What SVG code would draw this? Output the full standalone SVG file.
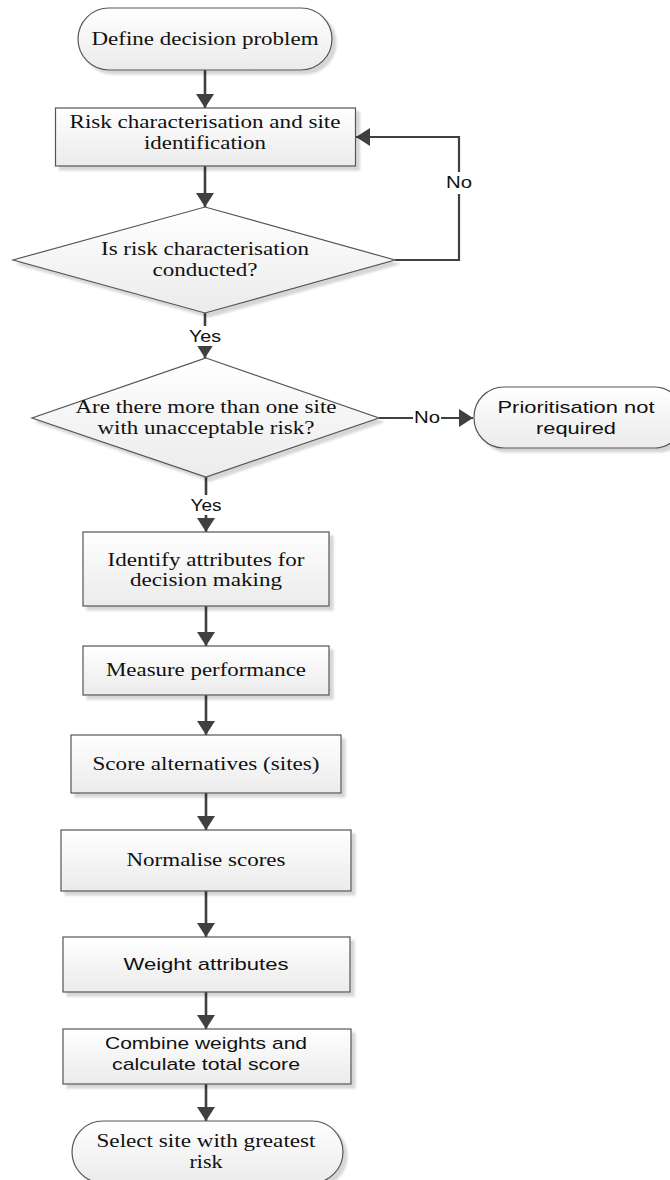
<svg xmlns="http://www.w3.org/2000/svg" width="670" height="1180" viewBox="0 0 670 1180">
  <defs>
    <linearGradient id="fillGrad" x1="0" y1="0" x2="0" y2="1">
      <stop offset="0" stop-color="#ffffff"/>
      <stop offset="1" stop-color="#ebebeb"/>
    </linearGradient>
    <filter id="shadow" x="-10%" y="-10%" width="125%" height="130%">
      <feDropShadow dx="4" dy="4" stdDeviation="1" flood-color="#000" flood-opacity="0.16"/>
    </filter>
    <marker id="arrow" viewBox="0 0 14 18" refX="14" refY="9" markerWidth="14" markerHeight="18" markerUnits="userSpaceOnUse" orient="auto">
      <path d="M0,0 L14,9 L0,18 Z" fill="#404040"/>
    </marker>
  </defs>
  <style>
    .shape { fill: url(#fillGrad); stroke: #555555; stroke-width: 1.2; filter: url(#shadow); }
    .serif { font-family: "Liberation Serif", "Times New Roman", serif; font-size: 18.5px; fill: #111111; text-anchor: middle; }
    .sans { font-family: "Liberation Sans", Arial, sans-serif; font-size: 17px; fill: #111111; text-anchor: middle; }
    .link { fill: none; stroke: #404040; stroke-width: 2.6; marker-end: url(#arrow); }
    .label-bg { fill: #ffffff; }
  </style>

  <!-- connectors -->
  <g id="connectors">
    <path class="link" d="M205,70 V108"/>
    <path class="link" d="M205,166 V207"/>
    <path class="link" d="M395,260 H459 V137 H356" style="stroke-width:2.2"/>
    <rect class="label-bg" x="445" y="172" width="28" height="22"/>
    <text class="sans" x="459" y="188" textLength="26" lengthAdjust="spacingAndGlyphs">No</text>

    <path class="link" d="M205,313 V358"/>
    <rect class="label-bg" x="187" y="326" width="38" height="20"/>
    <text class="sans" x="205" y="342" textLength="32" lengthAdjust="spacingAndGlyphs">Yes</text>

    <path class="link" d="M379,418 H473" style="stroke-width:2.2"/>
    <rect class="label-bg" x="413" y="407" width="28" height="22"/>
    <text class="sans" x="427" y="423" textLength="26" lengthAdjust="spacingAndGlyphs">No</text>

    <path class="link" d="M206,477 V532"/>
    <rect class="label-bg" x="188" y="495" width="38" height="20"/>
    <text class="sans" x="206" y="511" textLength="31" lengthAdjust="spacingAndGlyphs">Yes</text>

    <path class="link" d="M206,606 V646"/>
    <path class="link" d="M206,695 V735"/>
    <path class="link" d="M206,793 V830"/>
    <path class="link" d="M206,891 V937"/>
    <path class="link" d="M206,992 V1029"/>
    <path class="link" d="M206,1084 V1121"/>
  </g>

  <!-- start terminal -->
  <g id="define-problem">
    <rect class="shape" x="78" y="8" width="254" height="62" rx="31" ry="31"/>
    <text class="serif" x="205" y="45" textLength="227" lengthAdjust="spacingAndGlyphs">Define decision problem</text>
  </g>

  <g id="risk-characterisation">
    <rect class="shape" x="55.5" y="108" width="300" height="58"/>
    <text class="serif" x="205" y="128" textLength="271" lengthAdjust="spacingAndGlyphs">Risk characterisation and site</text>
    <text class="serif" x="205" y="149" textLength="122" lengthAdjust="spacingAndGlyphs">identification</text>
  </g>

  <g id="decision-conducted">
    <polygon class="shape" points="205,207 395,260 205,313 13,260"/>
    <text class="serif" x="205" y="255" textLength="208" lengthAdjust="spacingAndGlyphs">Is risk characterisation</text>
    <text class="serif" x="205" y="276" textLength="105" lengthAdjust="spacingAndGlyphs">conducted?</text>
  </g>

  <g id="decision-multiple-sites">
    <polygon class="shape" points="206,358 379,418 206,477 32,418"/>
    <text class="serif" x="206" y="413" textLength="261" lengthAdjust="spacingAndGlyphs">Are there more than one site</text>
    <text class="serif" x="206" y="434" textLength="217" lengthAdjust="spacingAndGlyphs">with unacceptable risk?</text>
  </g>

  <g id="prioritisation-not-required">
    <rect class="shape" x="474" y="387" width="210" height="61" rx="30" ry="30"/>
    <text class="sans" x="576" y="413" textLength="157" lengthAdjust="spacingAndGlyphs">Prioritisation not</text>
    <text class="sans" x="576" y="434" textLength="80" lengthAdjust="spacingAndGlyphs">required</text>
  </g>

  <g id="identify-attributes">
    <rect class="shape" x="83" y="532" width="246" height="74"/>
    <text class="serif" x="206" y="566" textLength="197" lengthAdjust="spacingAndGlyphs">Identify attributes for</text>
    <text class="serif" x="206" y="586" textLength="152" lengthAdjust="spacingAndGlyphs">decision making</text>
  </g>

  <g id="measure-performance">
    <rect class="shape" x="83" y="646" width="246" height="49"/>
    <text class="serif" x="206" y="676" textLength="200" lengthAdjust="spacingAndGlyphs">Measure performance</text>
  </g>

  <g id="score-alternatives">
    <rect class="shape" x="71" y="735" width="270" height="58"/>
    <text class="serif" x="206" y="770" textLength="227" lengthAdjust="spacingAndGlyphs">Score alternatives (sites)</text>
  </g>

  <g id="normalise-scores">
    <rect class="shape" x="61" y="830" width="290" height="61"/>
    <text class="serif" x="206" y="866" textLength="159" lengthAdjust="spacingAndGlyphs">Normalise scores</text>
  </g>

  <g id="weight-attributes">
    <rect class="shape" x="63" y="937" width="287" height="55"/>
    <text class="sans" x="206" y="970" textLength="165" lengthAdjust="spacingAndGlyphs">Weight attributes</text>
  </g>

  <g id="combine-weights">
    <rect class="shape" x="63" y="1029" width="288" height="55"/>
    <text class="sans" x="206" y="1049" textLength="202" lengthAdjust="spacingAndGlyphs">Combine weights and</text>
    <text class="sans" x="206" y="1070" textLength="188" lengthAdjust="spacingAndGlyphs">calculate total score</text>
  </g>

  <!-- end terminal -->
  <g id="select-site">
    <rect class="shape" x="72" y="1121" width="271" height="62" rx="31" ry="31"/>
    <text class="serif" x="206" y="1147" textLength="219" lengthAdjust="spacingAndGlyphs">Select site with greatest</text>
    <text class="serif" x="206" y="1168" textLength="33" lengthAdjust="spacingAndGlyphs">risk</text>
  </g>
</svg>
